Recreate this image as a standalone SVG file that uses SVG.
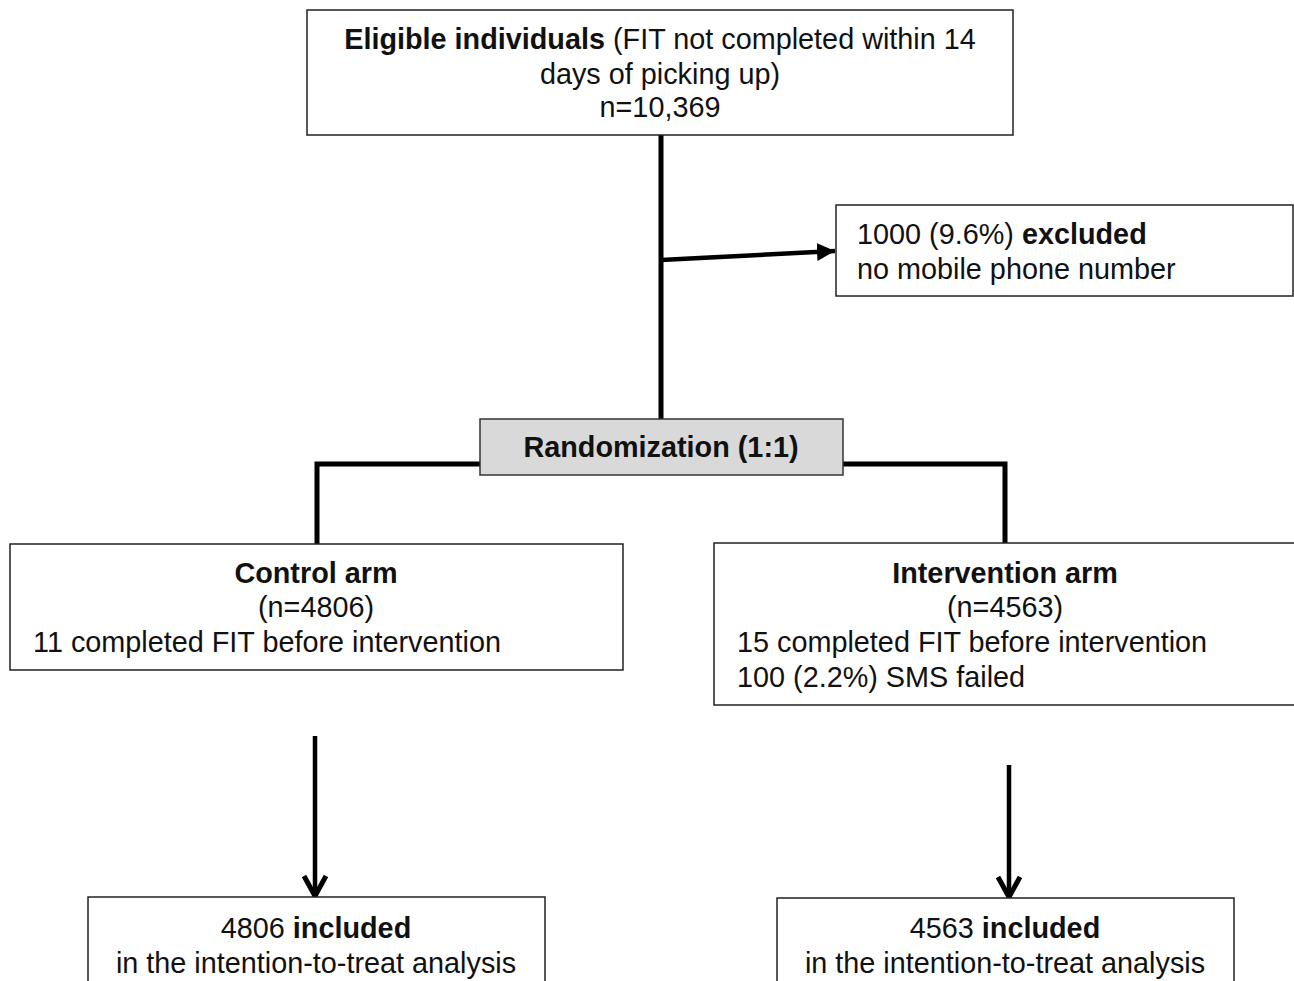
<svg xmlns="http://www.w3.org/2000/svg" width="1294" height="981" viewBox="0 0 1294 981">
<style>
.box{fill:#fff;stroke:#222;stroke-width:1.5}
.gray{fill:#d9d9d9;stroke:#333;stroke-width:1.5}
text{font-family:"Liberation Sans",Arial,sans-serif;font-size:28.8px;fill:#111}
.c{text-anchor:middle}
.b{font-weight:bold}
.ln{fill:none;stroke:#000;stroke-width:5}
.ln4{fill:none;stroke:#000;stroke-width:4.5}
</style>
<defs>
<marker id="tri" markerUnits="userSpaceOnUse" markerWidth="22" markerHeight="22" refX="18" refY="9" orient="auto">
<path d="M0,0 L18,9 L0,18 Z" fill="#000"/>
</marker>
<marker id="vee" markerUnits="userSpaceOnUse" markerWidth="30" markerHeight="30" refX="24" refY="13" orient="auto">
<path d="M3,2 L23,13 L3,24" fill="none" stroke="#000" stroke-width="5" stroke-linejoin="miter"/>
</marker>
</defs>
<g id="connectors">
<line class="ln" x1="661" y1="135" x2="661" y2="419"/>
<line class="ln4" x1="661" y1="260" x2="835" y2="251" marker-end="url(#tri)"/>
<polyline class="ln" points="480,464 317,464 317,544"/>
<polyline class="ln" points="843,464 1005,464 1005,543"/>
<line class="ln4" x1="315" y1="736" x2="315" y2="897" marker-end="url(#vee)"/>
<line class="ln4" x1="1009" y1="765" x2="1009" y2="898" marker-end="url(#vee)"/>
</g>
<g id="eligible">
<rect class="box" x="307" y="10" width="706" height="125"/>
<text class="c" x="660" y="49"><tspan class="b">Eligible individuals</tspan> (FIT not completed within 14</text>
<text class="c" x="660" y="84">days of picking up)</text>
<text class="c" x="660" y="117">n=10,369</text>
</g>
<g id="excluded">
<rect class="box" x="836" y="205" width="457" height="91"/>
<text x="857" y="244">1000 (9.6%) <tspan class="b">excluded</tspan></text>
<text x="857" y="279">no mobile phone number</text>
</g>
<g id="randomization">
<rect class="gray" x="480" y="419" width="363" height="56"/>
<text class="c b" x="661" y="457">Randomization (1:1)</text>
</g>
<g id="control">
<rect class="box" x="10" y="544" width="613" height="126"/>
<text class="c b" x="316" y="583">Control arm</text>
<text class="c" x="316" y="617">(n=4806)</text>
<text x="33" y="652">11 completed FIT before intervention</text>
</g>
<g id="intervention">
<rect class="box" x="714" y="543" width="590" height="162"/>
<text class="c b" x="1005" y="583">Intervention arm</text>
<text class="c" x="1005" y="617">(n=4563)</text>
<text x="737" y="652">15 completed FIT before intervention</text>
<text x="737" y="687">100 (2.2%) SMS failed</text>
</g>
<g id="control-included">
<rect class="box" x="88" y="897" width="457" height="100"/>
<text class="c" x="316" y="938">4806 <tspan class="b">included</tspan></text>
<text class="c" x="316" y="973">in the intention-to-treat analysis</text>
</g>
<g id="intervention-included">
<rect class="box" x="777" y="898" width="457" height="100"/>
<text class="c" x="1005" y="938">4563 <tspan class="b">included</tspan></text>
<text class="c" x="1005" y="973">in the intention-to-treat analysis</text>
</g>
</svg>
